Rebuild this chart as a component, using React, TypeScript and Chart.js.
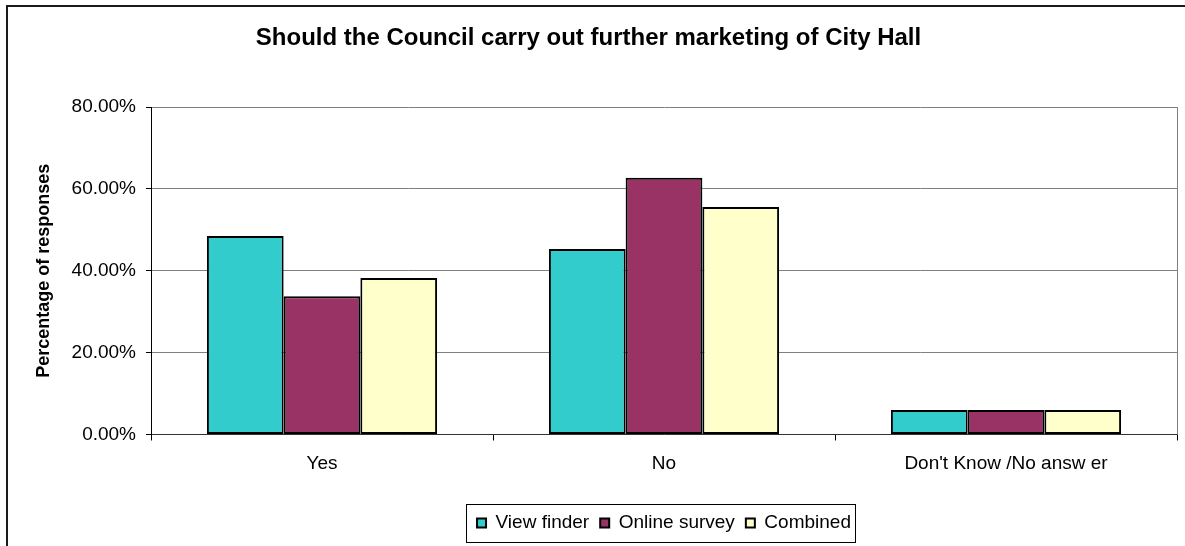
import React, { useEffect, useRef } from "react";
import { Chart, registerables } from "chart.js";

Chart.register(...registerables);

const categories = ["Yes", "No", "Don't Know /No answ er"];
const seriesNames = ["View finder", "Online survey", "Combined"];
const viewFinder = [48.5, 45.3, 6.0];
const onlineSurvey = [33.8, 62.7, 6.0];
const combined = [38.2, 55.6, 6.0];
const yTickMin = 0;
const yTickMax = 80;
const yTickStep = 20;
const titleText = "Should the Council carry out further marketing of City Hall";
const yTitleText = "Percentage of responses";

const FONT = "'Liberation Sans', Arial, sans-serif";

const framePlugin = {
  id: "frame",
  beforeDraw(chart: any) {
    const ctx = chart.ctx;
    ctx.save();
    ctx.fillStyle = "#ffffff";
    ctx.fillRect(0, 0, chart.width, chart.height);
    ctx.restore();
  },
  afterDraw(chart: any) {
    const ctx = chart.ctx;
    const a = chart.chartArea;
    ctx.save();
    // plot-area right border
    ctx.strokeStyle = "#808080";
    ctx.lineWidth = 1;
    const rx = Math.floor(a.right) + 0.5;
    ctx.beginPath();
    ctx.moveTo(rx, a.top);
    ctx.lineTo(rx, a.bottom);
    ctx.stroke();
    // legend frame
    const lg = chart.legend;
    if (lg && lg.legendHitBoxes && lg.legendHitBoxes.length) {
      const hb = lg.legendHitBoxes;
      const first = hb[0];
      const last = hb[hb.length - 1];
      const cy = first.top + first.height / 2;
      const left = Math.floor(first.left - 11) + 0.5;
      const right = Math.floor(last.left + last.width + 5) + 0.5;
      const top = Math.floor(cy - 19) + 0.5;
      const bottom = Math.floor(cy + 19) + 0.5;
      ctx.strokeStyle = "#000000";
      ctx.lineWidth = 1;
      ctx.strokeRect(left, top, right - left, bottom - top);
    }
    // outer chart frame (right and bottom edges fall outside the picture)
    ctx.strokeStyle = "#1a1a1a";
    ctx.lineWidth = 2;
    ctx.strokeRect(7, 6, 3000, 3000);
    ctx.restore();
  },
};

export default function App() {
  const canvasRef = useRef<HTMLCanvasElement | null>(null);

  useEffect(() => {
    const canvas = canvasRef.current;
    if (!canvas) return;
    const chart = new Chart(canvas, {
      type: "bar",
      data: {
        labels: categories,
        datasets: [
          {
            label: seriesNames[0],
            data: viewFinder,
            backgroundColor: "#33CCCC",
            borderColor: "#000000",
            borderWidth: 2,
            borderSkipped: false,
          },
          {
            label: seriesNames[1],
            data: onlineSurvey,
            backgroundColor: "#993366",
            borderColor: "#000000",
            borderWidth: 2,
            borderSkipped: false,
          },
          {
            label: seriesNames[2],
            data: combined,
            backgroundColor: "#FFFFCC",
            borderColor: "#000000",
            borderWidth: 2,
            borderSkipped: false,
          },
        ],
      },
      options: {
        responsive: false,
        animation: false,
        layout: { padding: { left: 0, right: 8, top: 0, bottom: 3.5 } },
        datasets: {
          bar: { categoryPercentage: 0.673, barPercentage: 1 },
        },
        plugins: {
          tooltip: { enabled: false },
          title: {
            display: true,
            text: titleText,
            color: "#000000",
            font: { family: FONT, size: 24, weight: "bold", lineHeight: 1.2 },
            padding: { top: 23.6, bottom: 54.6 },
          },
          legend: {
            display: true,
            position: "bottom",
            fullSize: false,
            labels: {
              boxWidth: 9,
              boxHeight: 9,
              padding: 11,
              color: "#000000",
              font: { family: FONT, size: 19 },
            },
          },
        },
        scales: {
          x: {
            offset: true,
            grid: {
              offset: true,
              drawOnChartArea: false,
              drawTicks: true,
              tickLength: 6,
              tickColor: "#000000",
            },
            border: { display: true, color: "#333333", width: 1 },
            ticks: {
              color: "#000000",
              font: { family: FONT, size: 19 },
              padding: 12,
              maxRotation: 0,
              autoSkip: false,
            },
            afterFit(scale: any) {
              scale.height = 68;
            },
          },
          y: {
            min: yTickMin,
            max: yTickMax,
            grid: {
              color: "#808080",
              lineWidth: 1,
              drawTicks: true,
              tickLength: 5,
              tickColor: "#000000",
            },
            border: { display: true, color: "#000000", width: 1 },
            ticks: {
              stepSize: yTickStep,
              color: "#000000",
              font: { family: FONT, size: 19 },
              padding: 10,
              callback: (v: any) => Number(v).toFixed(2) + "%",
            },
            title: {
              display: true,
              text: yTitleText,
              color: "#000000",
              font: { family: FONT, size: 18, weight: "bold", lineHeight: 1.2 },
              padding: { top: 33, bottom: 0 },
            },
            afterFit(scale: any) {
              scale.width = 151;
            },
          },
        },
      },
      plugins: [framePlugin],
    });
    return () => chart.destroy();
  }, []);

  return (
    <div style={{ position: "absolute", left: 0, top: 0, width: 1185, height: 546, background: "#fff" }}>
      <canvas ref={canvasRef} width={1185} height={546} style={{ display: "block" }} />
    </div>
  );
}
